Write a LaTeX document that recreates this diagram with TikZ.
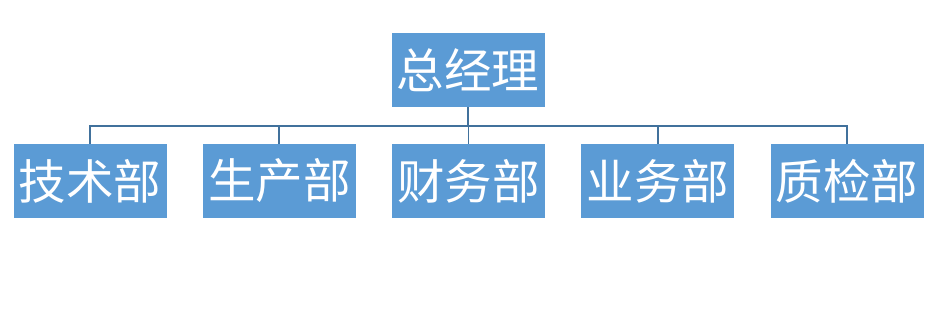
\documentclass[tikz,border=0pt]{standalone}
\usepackage{xcolor}
\usepackage{fontspec}
\usepackage{tikz}
\newfontfamily\cjk{Noto Sans CJK SC}
\definecolor{boxblue}{RGB}{91,155,213}
\definecolor{linkblue}{RGB}{65,113,156}

\tikzset{
  dept/.style={fill=boxblue, text=white, inner sep=0pt,
    minimum width=153, minimum height=74,
    font=\cjk\fontsize{47.5}{50}\selectfont},
  link/.style={draw=linkblue, line width=1.8pt}
}

\begin{document}
\begin{tikzpicture}[x=1pt,y=1pt]
\useasboundingbox (0,0) rectangle (942,322);
\node[dept] (gm) at (468,252) {总经理};
\foreach \name [count=\i] in {技术部,生产部,财务部,业务部,质检部} {
  \node[dept] (d\i) at ({90+189.25*(\i-1)},141) {\name};
  \draw[link] (gm.south) -- ++(0,-19) -| (d\i.north);
}
\end{tikzpicture}
\end{document}
